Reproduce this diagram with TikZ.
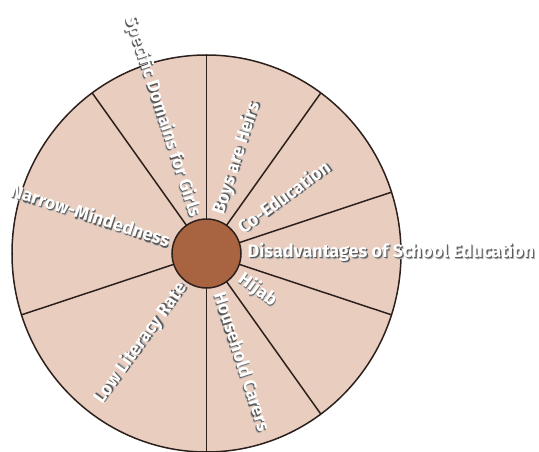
\documentclass[tikz,border=0pt]{standalone}
\usepackage{fontspec}
\setmainfont{Fira Sans}
\definecolor{wheelfill}{RGB}{233,206,192}
\definecolor{hubfill}{RGB}{168,99,64}
\definecolor{rimline}{RGB}{45,32,28}
\newcommand{\shtxt}[1]{\rlap{\hspace{1.8pt}\raisebox{-1.8pt}{\color{black!30}#1}}\rlap{\hspace{1.1pt}\raisebox{-1.1pt}{\color{black!65}#1}}#1}
\tikzset{
  spoke/.style={rimline,line width=1.5pt},
  lbl/.style={text=white,font=\fontsize{18}{21}\selectfont\bfseries,inner sep=0pt}
}
\begin{document}
\begin{tikzpicture}[x=1pt,y=1pt]
        \useasboundingbox (-206.5,-198.5) rectangle (332.5,253.5);
        %% wheel
        \draw[fill=wheelfill,draw=rimline,line width=1.5pt] (0,0) ellipse (194.5 and 198.5);
        \draw[spoke] (0,0) -- (90:194.5 and 198.5);
        \draw[spoke] (0,0) -- (54:194.5 and 198.5);
        \draw[spoke] (0,0) -- (18:194.5 and 198.5);
        \draw[spoke] (0,0) -- (-18:194.5 and 198.5);
        \draw[spoke] (0,0) -- (-54:194.5 and 198.5);
        \draw[spoke] (0,0) -- (-90:194.5 and 198.5);
        \draw[spoke] (0,0) -- (-162:194.5 and 198.5);
        \draw[spoke] (0,0) -- (126:194.5 and 198.5);
        %% hub
        \draw[fill=hubfill,draw=rimline,line width=1.5pt] (0,0) circle (34.5);
        %% labels
        \node[lbl,anchor=west] (school) at (0:41) {\shtxt{Disadvantages of School Education}};
        \node[lbl,rotate=36,anchor=west] (coedu) at (36:41) {\shtxt{Co-Education}};
        \node[lbl,rotate=72,anchor=west] (heirs) at (72:41) {\shtxt{Boys are Heirs}};
        \node[lbl,rotate=-72,anchor=east] (domains) at (108:39) {\shtxt{Specific Domains for Girls}};
        \node[lbl,rotate=-18,anchor=east] (narrow) at (162:39) {\shtxt{Narrow-Mindedness}};
        \node[lbl,rotate=54,anchor=east] (literacy) at (-126:39) {\shtxt{Low Literacy Rate}};
        \node[lbl,rotate=-72,anchor=west] (carers) at (-72:41) {\shtxt{Household Carers}};
        \node[lbl,rotate=-36,anchor=west] (hijab) at (-36:41) {\shtxt{Hijab}};
    \end{tikzpicture}
\end{document}
